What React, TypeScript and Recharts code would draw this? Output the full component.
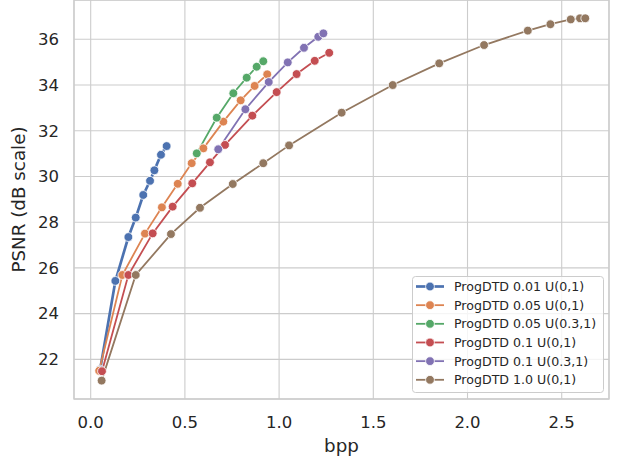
import React from 'react';
import { LineChart, Line, XAxis, YAxis, CartesianGrid, ReferenceArea, Legend } from 'recharts';

const seriesNames = [
  'ProgDTD 0.01 U(0,1)',
  'ProgDTD 0.05 U(0,1)',
  'ProgDTD 0.05 U(0.3,1)',
  'ProgDTD 0.1 U(0,1)',
  'ProgDTD 0.1 U(0.3,1)',
  'ProgDTD 1.0 U(0,1)',
];
const seriesColors = ['#4C72B0', '#DD8452', '#55A868', '#C44E52', '#8172B3', '#937860'];

const blueX = [0.05, 0.131, 0.2, 0.239, 0.279, 0.315, 0.338, 0.373, 0.403];
const blueY = [21.55, 25.43, 27.35, 28.2, 29.19, 29.81, 30.27, 30.95, 31.33];

const orangeX = [0.045, 0.168, 0.288, 0.378, 0.462, 0.536, 0.598, 0.704, 0.796, 0.87, 0.937];
const orangeY = [21.5, 25.69, 27.5, 28.65, 29.68, 30.58, 31.23, 32.4, 33.33, 33.96, 34.47];

const greenX = [0.563, 0.669, 0.757, 0.828, 0.881, 0.916];
const greenY = [31.01, 32.57, 33.64, 34.32, 34.8, 35.04];

const redX = [0.06, 0.2, 0.329, 0.435, 0.539, 0.633, 0.713, 0.858, 0.987, 1.093, 1.189, 1.266];
const redY = [21.48, 25.69, 27.51, 28.68, 29.7, 30.62, 31.38, 32.66, 33.69, 34.48, 35.06, 35.41];

const purpleX = [0.677, 0.821, 0.945, 1.046, 1.132, 1.208, 1.235];
const purpleY = [31.19, 32.94, 34.13, 34.99, 35.63, 36.11, 36.26];

const brownX = [0.058, 0.239, 0.426, 0.58, 0.754, 0.916, 1.053, 1.332, 1.603, 1.85, 2.088, 2.32, 2.44, 2.548, 2.597, 2.625];
const brownY = [21.07, 25.69, 27.48, 28.63, 29.67, 30.58, 31.36, 32.79, 34.0, 34.95, 35.75, 36.38, 36.66, 36.87, 36.92, 36.92];

const xTicks = [0, 0.5, 1, 1.5, 2, 2.5];
const yTicks = [22, 24, 26, 28, 30, 32, 34, 36];
const xDomain: [number, number] = [-0.0886, 2.751];
const yDomain: [number, number] = [20.265, 37.72];

const seriesXs = [blueX, orangeX, greenX, redX, purpleX, brownX];
const seriesYs = [blueY, orangeY, greenY, redY, purpleY, brownY];
const lineWidths = [2.7, 1.8, 1.8, 1.8, 1.8, 1.8];

const seriesData = seriesXs.map((xs, i) => xs.map((x, j) => ({ x, y: seriesYs[i][j] })));

const FONT = 'DejaVu Sans';
const TEXT = '#262626';
const GRID = '#cccccc';

const LegendBox = () => (
  <svg width={192} height={117} style={{ display: 'block' }}>
    <rect x={0.5} y={0.5} width={191} height={116} rx={3} ry={3} fill="rgba(255,255,255,0.8)" stroke={GRID} strokeWidth={1} />
    {seriesNames.map((name, i) => {
      const cy = 10.5 + i * 18.66;
      return (
        <g key={name}>
          <line x1={4} x2={32} y1={cy} y2={cy} stroke={seriesColors[i]} strokeWidth={lineWidths[i]} />
          <circle cx={18} cy={cy} r={4.4} fill={seriesColors[i]} stroke="#fff" strokeWidth={0.8} />
          <text x={42} y={cy} dominantBaseline="central" fontSize={12.6} fontFamily={FONT} fill={TEXT}>
            {name}
          </text>
        </g>
      );
    })}
  </svg>
);

export default function App() {
  return (
    <div style={{ position: 'absolute', left: 0, top: 0, width: 617, height: 461, background: '#fff' }}>
      <LineChart width={617} height={461} margin={{ top: 0, right: 8, bottom: 0, left: 0 }}>
        <CartesianGrid stroke={GRID} strokeWidth={1.1} verticalPoints={undefined} />
        <XAxis
          type="number"
          dataKey="x"
          domain={xDomain}
          ticks={xTicks}
          allowDataOverflow
          height={62}
          axisLine={false}
          tickLine={false}
          tickSize={0}
          tickMargin={17}
          tickFormatter={(v: number) => v.toFixed(1)}
          tick={{ fontSize: 16.5, fill: TEXT, fontFamily: FONT }}
          label={{ value: 'bpp', position: 'insideBottom', offset: 9.3, style: { fontSize: 18.3, fill: TEXT, fontFamily: FONT } }}
        />
        <YAxis
          type="number"
          dataKey="y"
          domain={yDomain}
          ticks={yTicks}
          allowDataOverflow
          width={74}
          axisLine={false}
          tickLine={false}
          tickSize={0}
          tickMargin={15}
          tick={{ fontSize: 16.5, fill: TEXT, fontFamily: FONT }}
          label={{
            value: 'PSNR (dB scale)',
            angle: -90,
            position: 'insideLeft',
            offset: 18.5,
            style: { textAnchor: 'middle', fontSize: 18.3, fill: TEXT, fontFamily: FONT },
          }}
        />
        <ReferenceArea x1={xDomain[0]} x2={xDomain[1]} y1={yDomain[0]} y2={yDomain[1]} fill="none" stroke={GRID} strokeWidth={1.3} />
        {seriesData.map((d, i) => (
          <Line
            key={seriesNames[i]}
            data={d}
            dataKey="y"
            name={seriesNames[i]}
            type="linear"
            stroke={seriesColors[i]}
            strokeWidth={lineWidths[i]}
            dot={{ r: 4.4, fill: seriesColors[i], stroke: '#fff', strokeWidth: 0.8 }}
            activeDot={false}
            isAnimationActive={false}
          />
        ))}
        <Legend
          layout="vertical"
          align="center"
          verticalAlign="middle"
          wrapperStyle={{ position: 'absolute', left: 412, top: 276, width: 192, height: 117 }}
          content={() => <LegendBox />}
        />
      </LineChart>
    </div>
  );
}
